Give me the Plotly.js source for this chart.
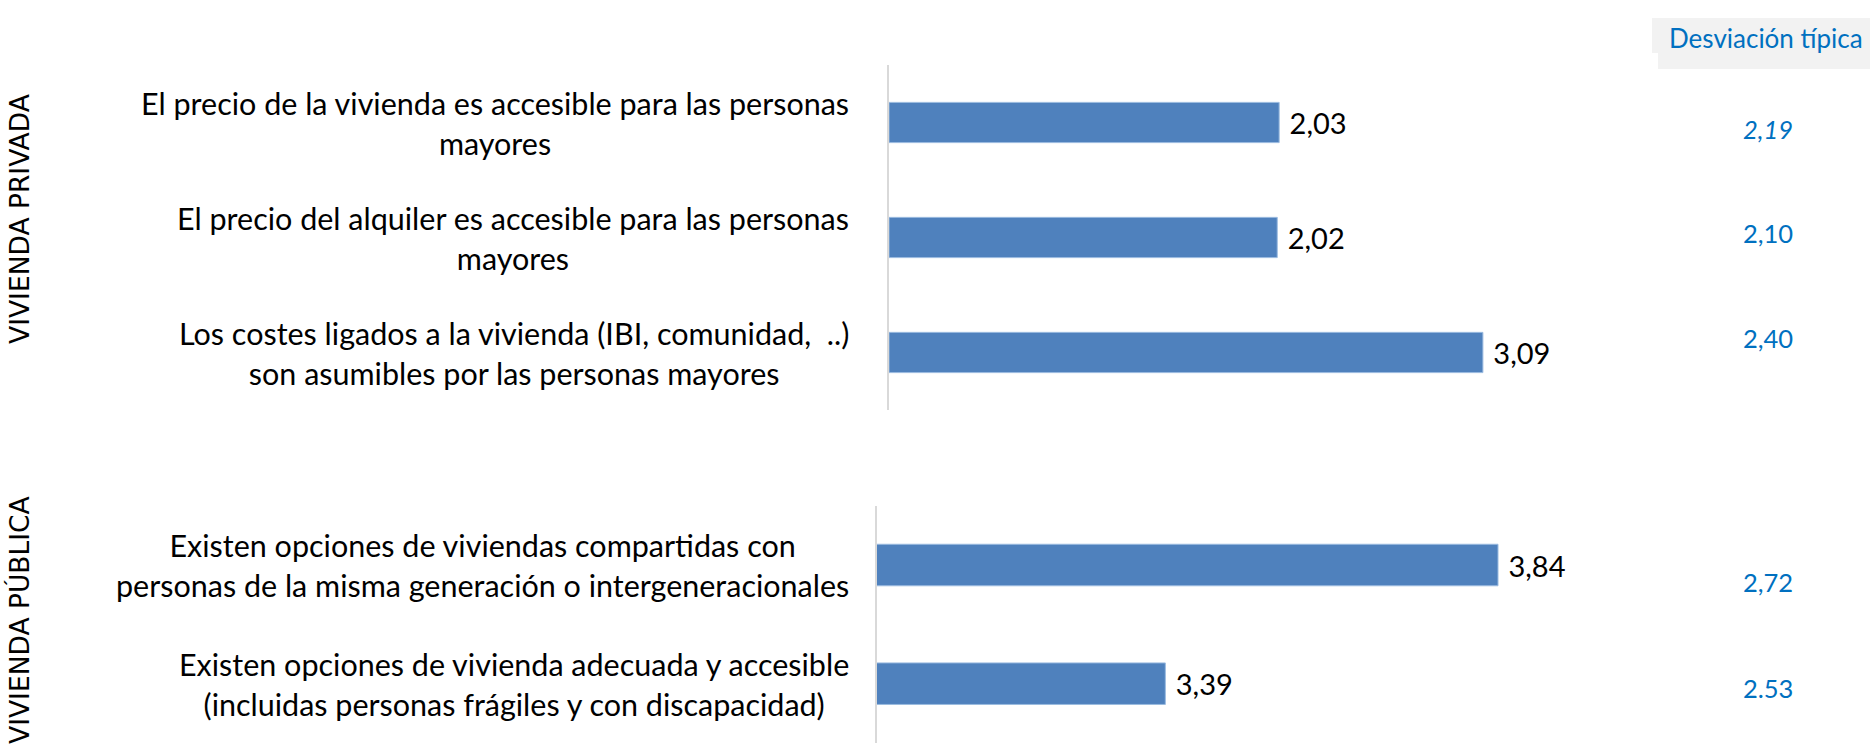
<!DOCTYPE html>
<html>
<head>
<meta charset="utf-8">
<script src="https://cdn.plot.ly/plotly-3.0.1.min.js"></script>
<style>
  html, body { margin: 0; padding: 0; background: #ffffff; }
  #chart { width: 1870px; height: 744px; }
</style>
</head>
<body>
<div id="chart"></div>
<script>
// ---- Data ----
var groupNames = ['VIVIENDA PRIVADA', 'VIVIENDA PÚBLICA'];

var privateLabels = [
  'El precio de la vivienda es accesible para las personas<br>mayores',
  'El precio del alquiler es accesible para las personas<br>mayores',
  'Los costes ligados a la vivienda (IBI, comunidad,\u00a0 ..)<br>son asumibles por las personas mayores'
];
var privateValues = [2.03, 2.02, 3.09];
var privateStd = ['2,19', '2,10', '2,40'];

var publicLabels = [
  'Existen opciones de viviendas compartidas con<br>personas de la misma generación o intergeneracionales',
  'Existen opciones de vivienda adecuada y accesible<br>(incluidas personas frágiles y con discapacidad)'
];
var publicValues = [3.84, 3.39];
var publicStd = ['2,72', '2.53'];

var stdHeader = 'Desviación típica';

// ---- Layout helpers (positions/styles) ----
var W = 1870, H = 744;
function px(x) { return x / W; }
function py(y) { return 1 - y / H; }

var barColor = '#4f81bd';
var blue = '#0070c0';
var font = 'Lato, "Open Sans", sans-serif';
var sideFont = '"DejaVu Sans", sans-serif';

var traces = [
  {
    type: 'bar', orientation: 'h',
    x: privateValues, y: privateLabels,
    xaxis: 'x', yaxis: 'y',
    marker: { color: barColor, line: { color: '#9bbbe0', width: 1 } },
    texttemplate: '\u00a0%{x:.2f}', textposition: 'outside',
    textfont: { family: font, size: 29, color: '#000000' },
    constraintext: 'none', cliponaxis: false,
    hoverinfo: 'skip'
  },
  {
    type: 'bar', orientation: 'h',
    x: publicValues, y: publicLabels,
    base: 0,
    xaxis: 'x2', yaxis: 'y2',
    marker: { color: barColor, line: { color: '#9bbbe0', width: 1 } },
    texttemplate: '\u00a0%{x:.2f}', textposition: 'outside',
    textfont: { family: font, size: 29, color: '#000000' },
    constraintext: 'none', cliponaxis: false,
    hoverinfo: 'skip'
  }
];

var annotations = [];

// category labels
privateLabels.forEach(function (lab) {
  annotations.push({
    xref: 'paper', yref: 'y', x: px(851), y: lab,
    xanchor: 'right', yanchor: 'middle', align: 'center',
    text: lab, showarrow: false,
    font: { family: font, size: 30.5, color: '#000000' }
  });
});
publicLabels.forEach(function (lab) {
  annotations.push({
    xref: 'paper', yref: 'y2', x: px(851), y: lab,
    xanchor: 'right', yanchor: 'middle', align: 'center',
    text: lab, showarrow: false,
    font: { family: font, size: 30.5, color: '#000000' }
  });
});

// std values
var privShift = [-6.5, 4.5, 14.5];
var pubShift = [-17, -4.3];
privateStd.forEach(function (s, i) {
  annotations.push({
    xref: 'paper', yref: 'y', x: px(1768), y: privateLabels[i], yshift: privShift[i],
    xanchor: 'center', yanchor: 'middle',
    text: i === 0 ? '<i>' + s + '</i>' : s, showarrow: false,
    font: { family: font, size: 25.5, color: blue }
  });
});
publicStd.forEach(function (s, i) {
  annotations.push({
    xref: 'paper', yref: 'y2', x: px(1768), y: publicLabels[i], yshift: pubShift[i],
    xanchor: 'center', yanchor: 'middle',
    text: s, showarrow: false,
    font: { family: font, size: 25.5, color: blue }
  });
});

// header
annotations.push({
  xref: 'paper', yref: 'paper', x: px(1766), y: py(38),
  xanchor: 'center', yanchor: 'middle',
  text: stdHeader, showarrow: false,
  font: { family: font, size: 26, color: blue }
});

// side group labels
annotations.push({
  xref: 'paper', yref: 'paper', x: px(19), y: py(219),
  xanchor: 'center', yanchor: 'middle', textangle: -90,
  text: groupNames[0], showarrow: false,
  font: { family: sideFont, size: 26.5, color: '#000000' }
});
annotations.push({
  xref: 'paper', yref: 'paper', x: px(19), y: py(620),
  xanchor: 'center', yanchor: 'middle', textangle: -90,
  text: groupNames[1], showarrow: false,
  font: { family: sideFont, size: 26.5, color: '#000000' }
});

var shapes = [
  { type: 'rect', xref: 'paper', yref: 'paper', x0: px(1652), x1: px(1870), y0: py(53), y1: py(18),
    fillcolor: '#f2f2f2', line: { width: 0 }, layer: 'below' },
  { type: 'rect', xref: 'paper', yref: 'paper', x0: px(1658), x1: px(1870), y0: py(69), y1: py(53),
    fillcolor: '#f2f2f2', line: { width: 0 }, layer: 'below' }
];

var layout = {
  width: W, height: H,
  margin: { l: 0, r: 0, t: 0, b: 0, pad: 0 },
  paper_bgcolor: '#ffffff', plot_bgcolor: 'rgba(0,0,0,0)',
  showlegend: false,
  separators: ',.',
  bargap: 0.65,
  font: { family: font, color: '#000000' },
  xaxis: {
    domain: [px(889), px(889 + 192.2 * 5)], range: [0, 5],
    visible: false, fixedrange: true
  },
  yaxis: {
    domain: [py(410), py(65)], type: 'category', autorange: 'reversed',
    showticklabels: false, ticks: '', showgrid: false, zeroline: false,
    showline: true, linecolor: '#d9d9d9', linewidth: 2, anchor: 'x', fixedrange: true
  },
  xaxis2: {
    domain: [px(877), px(877 + 739.3)], range: [3, 4], anchor: 'y2',
    visible: false, fixedrange: true
  },
  yaxis2: {
    domain: [py(743), py(505.7)], type: 'category', autorange: 'reversed',
    showticklabels: false, ticks: '', showgrid: false, zeroline: false,
    showline: true, linecolor: '#d9d9d9', linewidth: 2, anchor: 'x2', fixedrange: true
  },
  annotations: annotations,
  shapes: shapes
};

Plotly.newPlot('chart', traces, layout, { displayModeBar: false, staticPlot: true });
</script>
</body>
</html>
